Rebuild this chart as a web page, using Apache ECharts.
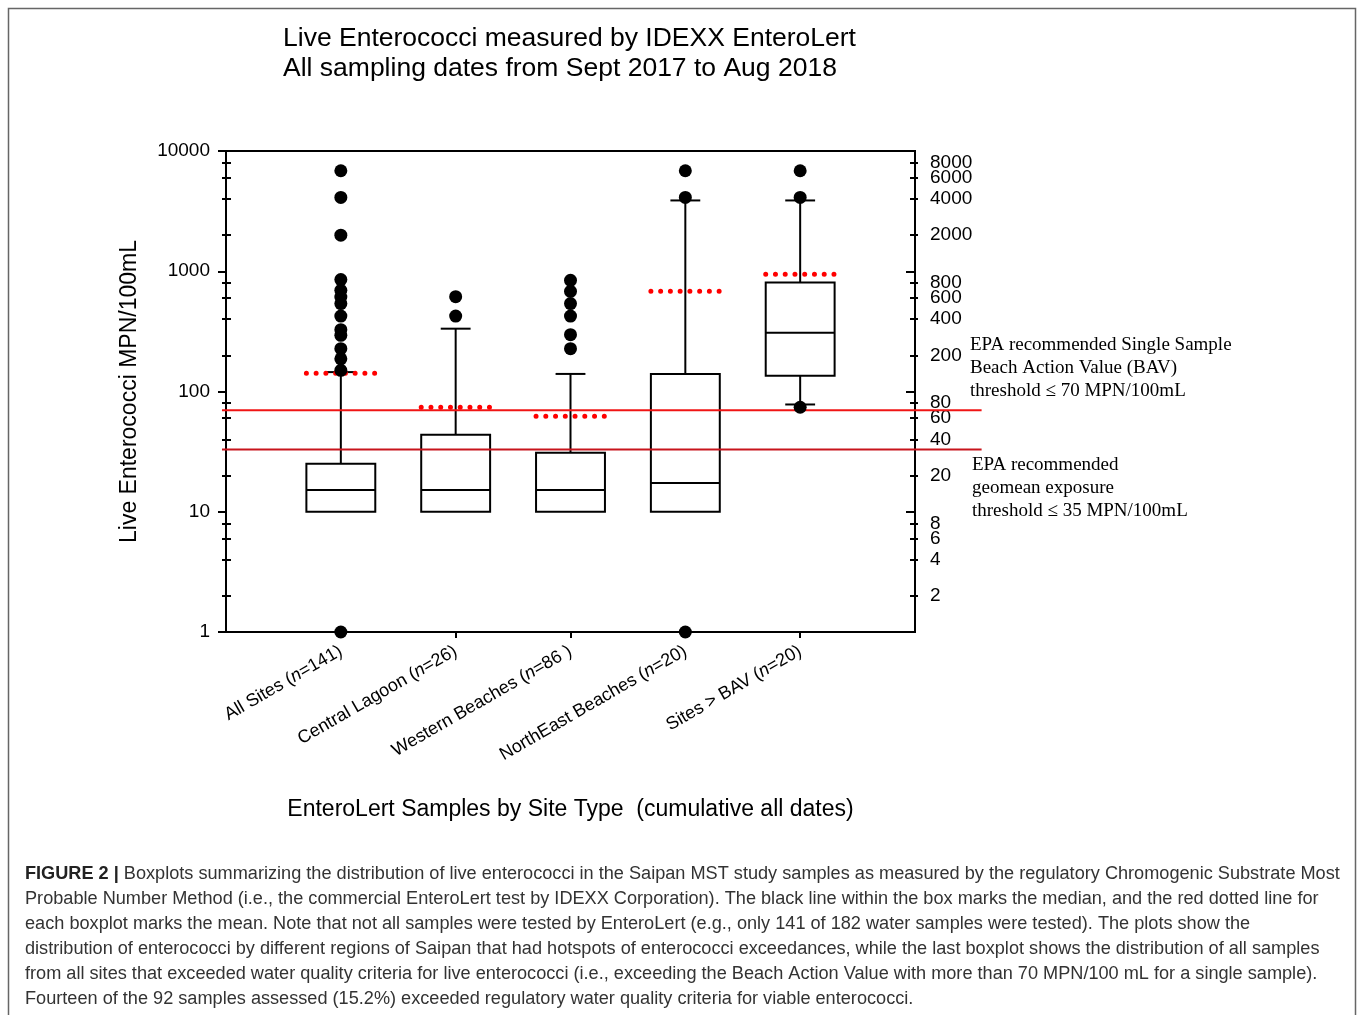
<!DOCTYPE html>
<html>
<head>
<meta charset="utf-8">
<script src="https://cdn.jsdelivr.net/npm/echarts@6/dist/echarts.min.js"></script>
<style>
html,body{margin:0;padding:0;background:#fff;}
#chart{width:1357px;height:1015px;}
</style>
</head>
<body>
<div id="chart"></div>
<script>
// ---- Data ----
const categories = ['All Sites (n=141)', 'Central Lagoon (n=26)', 'Western Beaches (n=86 )', 'NorthEast Beaches (n=20)', 'Sites > BAV (n=20)'];
// [lower whisker, Q1, median, Q3, upper whisker]
const boxAll      = [10, 10, 15.2, 25.1, 145];
const boxLagoon   = [10, 10, 15.2, 43.6, 333];
const boxWestern  = [10, 10, 15.2, 30.9, 140];
const boxNorthEast= [10, 10, 17.3, 140, 3880];
const boxBAV      = [78, 135, 308, 805, 3880];
const means = [142, 74, 62.3, 681, 944];
const outAll      = [6850, 4110, 1995, 853, 695, 611, 538, 424, 327, 293, 227, 187, 150, 1];
const outLagoon   = [615, 424];
const outWestern  = [841, 681, 538, 424, 297, 227];
const outNorthEast= [6850, 4110, 1];
const outBAV      = [6850, 4110, 74];
const thresholds = [70, 33];   // BAV line, geomean line (as drawn)
const leftTickValues = [1, 10, 100, 1000, 10000];
const minorTickValues = [2, 4, 6, 8, 20, 40, 60, 80, 200, 400, 600, 800, 2000, 4000, 6000, 8000];
const rightLabelsA = [2, 6, 20, 60, 200, 600, 2000, 6000];
const rightLabelsB = [4, 8, 40, 80, 400, 800, 4000, 8000];
const categoryPositions = [1, 2, 3, 4, 5];

const boxes = [boxAll, boxLagoon, boxWestern, boxNorthEast, boxBAV];
const outliers = [outAll, outLagoon, outWestern, outNorthEast, outBAV];

const boxData = boxes.map((b, i) => [categoryPositions[i]].concat(b));
const meanData = means.map((m, i) => [categoryPositions[i], m]);
const outlierData = [];
outliers.forEach((arr, i) => arr.forEach(v => outlierData.push([categoryPositions[i], v])));
const thresholdData = thresholds.map(t => [0, t]);

const BOX_HALF = 0.3, CAP_HALF = 0.13;
const FONT = '"Liberation Sans", Arial, sans-serif';
const SERIF = '"Liberation Serif", "Times New Roman", serif';

function renderBox(params, api) {
  const x = api.value(0);
  const lo = api.value(1), q1 = api.value(2), med = api.value(3), q3 = api.value(4), hi = api.value(5);
  const pLo = api.coord([x, lo]), pQ1 = api.coord([x, q1]), pMed = api.coord([x, med]),
        pQ3 = api.coord([x, q3]), pHi = api.coord([x, hi]);
  const left = api.coord([x - BOX_HALF, med])[0], right = api.coord([x + BOX_HALF, med])[0];
  const cl = api.coord([x - CAP_HALF, med])[0], cr = api.coord([x + CAP_HALF, med])[0];
  const st = {stroke: '#000', lineWidth: 2, fill: null};
  const ch = [
    {type: 'line', shape: {x1: pQ3[0], y1: pQ3[1], x2: pHi[0], y2: pHi[1]}, style: st},
    {type: 'line', shape: {x1: cl, y1: pHi[1], x2: cr, y2: pHi[1]}, style: st},
    {type: 'rect', shape: {x: left, y: pQ3[1], width: right - left, height: pQ1[1] - pQ3[1]}, style: st},
    {type: 'line', shape: {x1: left, y1: pMed[1], x2: right, y2: pMed[1]}, style: st}
  ];
  if (lo < q1) {
    ch.push({type: 'line', shape: {x1: pQ1[0], y1: pQ1[1], x2: pLo[0], y2: pLo[1]}, style: st});
    ch.push({type: 'line', shape: {x1: cl, y1: pLo[1], x2: cr, y2: pLo[1]}, style: st});
  }
  return {type: 'group', children: ch};
}

function renderMean(params, api) {
  const x = api.value(0), m = api.value(1);
  const a = api.coord([x - BOX_HALF, m]), b = api.coord([x + BOX_HALF, m]);
  return {type: 'line', shape: {x1: a[0], y1: a[1], x2: b[0] + 0.5, y2: b[1]},
    style: {stroke: '#ff0000', lineWidth: 5, lineDash: [0, 9.75], lineCap: 'round'}};
}

function renderThreshold(params, api) {
  const t = api.value(1);
  const a = api.coord([-0.035, t]), b = api.coord([6.58, t]);
  return {type: 'line', shape: {x1: a[0], y1: a[1], x2: b[0], y2: b[1]},
    style: {stroke: params.dataIndex === 0 ? '#f01414' : '#c8141c', lineWidth: 2}};
}

const fmt = v => String(Math.round(v));

const logAxisBase = {type: 'log', logBase: 10, min: 1, max: 10000, splitLine: {show: false}};

function rightLabelAxis(values) {
  return Object.assign({}, logAxisBase, {
    position: 'right', axisLine: {show: false}, axisTick: {show: false},
    axisLabel: {customValues: values, formatter: fmt, margin: 15, fontFamily: FONT, fontSize: 19, color: '#000',
      showMinLabel: true, showMaxLabel: true, hideOverlap: false}
  });
}

const option = {
  backgroundColor: '#fff',
  animation: false,
  title: {
    text: 'Live Enterococci measured by IDEXX EnteroLert\nAll sampling dates from Sept 2017 to Aug 2018',
    left: 278, top: 19,
    textStyle: {fontFamily: FONT, fontSize: 26.5, fontWeight: 'normal', color: '#000', lineHeight: 30}
  },
  grid: {left: 226, top: 151, right: 442, bottom: 383, containLabel: false,
    show: true, borderColor: '#000', borderWidth: 2, backgroundColor: 'transparent'},
  xAxis: {
    type: 'value', min: 0, max: 6, interval: 1,
    axisLine: {show: true, lineStyle: {color: '#000', width: 2}},
    splitLine: {show: false},
    axisTick: {show: true, customValues: categoryPositions, length: 6, lineStyle: {color: '#000', width: 2}},
    axisLabel: {
      customValues: categoryPositions, rotate: 30, margin: 18,
      fontFamily: FONT, fontSize: 18, color: '#000',
      formatter: v => {
        const c = categories[Math.round(v) - 1] || '';
        return c.replace('(n=', '({i|n}=');
      },
      rich: {i: {fontFamily: FONT, fontSize: 18, fontStyle: 'italic', color: '#000'}}
    },
    name: 'EnteroLert Samples by Site Type  (cumulative all dates)',
    nameLocation: 'middle', nameGap: 166,
    nameTextStyle: {fontFamily: FONT, fontSize: 23, color: '#000'}
  },
  yAxis: [
    Object.assign({}, logAxisBase, {
      position: 'left',
      axisLine: {show: true, lineStyle: {color: '#000', width: 2}},
      axisTick: {show: true, customValues: leftTickValues, length: 8, lineStyle: {color: '#000', width: 2}},
      axisLabel: {customValues: leftTickValues, formatter: fmt, margin: 16, fontFamily: FONT, fontSize: 19, color: '#000',
        showMinLabel: true, showMaxLabel: true},
      name: 'Live Enterococci MPN/100mL', nameLocation: 'middle', nameGap: 85, nameRotate: 90,
      nameTextStyle: {fontFamily: FONT, fontSize: 23, color: '#000'}
    }),
    Object.assign({}, logAxisBase, {
      position: 'left', axisLine: {show: false},
      axisTick: {show: true, customValues: minorTickValues, length: 5, inside: true, lineStyle: {color: '#000', width: 2}},
      axisLabel: {show: false}
    }),
    Object.assign({}, logAxisBase, {
      position: 'left', axisLine: {show: false},
      axisTick: {show: true, customValues: minorTickValues, length: 4, lineStyle: {color: '#000', width: 2}},
      axisLabel: {show: false}
    }),
    Object.assign({}, logAxisBase, {
      position: 'right',
      axisLine: {show: true, lineStyle: {color: '#000', width: 2}},
      axisTick: {show: true, customValues: minorTickValues, length: 3, lineStyle: {color: '#000', width: 2}},
      axisLabel: {show: false}
    }),
    Object.assign({}, logAxisBase, {
      position: 'right', axisLine: {show: false},
      axisTick: {show: true, customValues: minorTickValues, length: 5, inside: true, lineStyle: {color: '#000', width: 2}},
      axisLabel: {show: false}
    }),
    Object.assign({}, logAxisBase, {
      position: 'right', axisLine: {show: false},
      axisTick: {show: true, customValues: leftTickValues, length: 9, inside: true, lineStyle: {color: '#000', width: 2}},
      axisLabel: {show: false}
    }),
    rightLabelAxis(rightLabelsA),
    rightLabelAxis(rightLabelsB)
  ],
  series: [
    {type: 'custom', name: 'boxes', renderItem: renderBox, data: boxData, encode: {x: 0, y: [1, 2, 3, 4, 5]}, z: 3, clip: false},
    {type: 'custom', name: 'thresholds', renderItem: renderThreshold, data: thresholdData, encode: {x: 0, y: 1}, z: 4, clip: false},
    {type: 'custom', name: 'means', renderItem: renderMean, data: meanData, encode: {x: 0, y: 1}, z: 5, clip: false},
    {type: 'scatter', name: 'outliers', data: outlierData, symbol: 'circle', symbolSize: 13,
      itemStyle: {color: '#000', opacity: 1}, z: 6, clip: false}
  ],
  graphic: [
    {type: 'rect', shape: {x: 8.5, y: 8.5, width: 1347, height: 1030}, style: {fill: null, stroke: '#666', lineWidth: 1.5}, z: 100, silent: true},
    {type: 'text', left: 970, top: 334, style: {
      text: 'EPA recommended Single Sample\nBeach Action Value (BAV)\nthreshold \u2264 70 MPN/100mL',
      font: '19px ' + SERIF, fill: '#000', lineHeight: 23}},
    {type: 'text', left: 972, top: 454, style: {
      text: 'EPA recommended\ngeomean exposure\nthreshold \u2264 35 MPN/100mL',
      font: '19px ' + SERIF, fill: '#000', lineHeight: 23}},
    {type: 'text', left: 25, top: 861, style: {
      text: '{b|FIGURE 2 |} Boxplots summarizing the distribution of live enterococci in the Saipan MST study samples as measured by the regulatory Chromogenic Substrate Most\n' +
        'Probable Number Method (i.e., the commercial EnteroLert test by IDEXX Corporation). The black line within the box marks the median, and the red dotted line for\n' +
        'each boxplot marks the mean. Note that not all samples were tested by EnteroLert (e.g., only 141 of 182 water samples were tested). The plots show the\n' +
        'distribution of enterococci by different regions of Saipan that had hotspots of enterococci exceedances, while the last boxplot shows the distribution of all samples\n' +
        'from all sites that exceeded water quality criteria for live enterococci (i.e., exceeding the Beach Action Value with more than 70 MPN/100 mL for a single sample).\n' +
        'Fourteen of the 92 samples assessed (15.2%) exceeded regulatory water quality criteria for viable enterococci.',
      fontFamily: FONT, fontSize: 18.15, fill: '#333', lineHeight: 25,
      rich: {b: {fontFamily: FONT, fontSize: 18.15, fontWeight: 'bold', fill: '#222', lineHeight: 25}}
    }}
  ]
};

const chart = echarts.init(document.getElementById('chart'), null, {renderer: 'canvas'});
chart.setOption(option);
</script>
</body>
</html>
